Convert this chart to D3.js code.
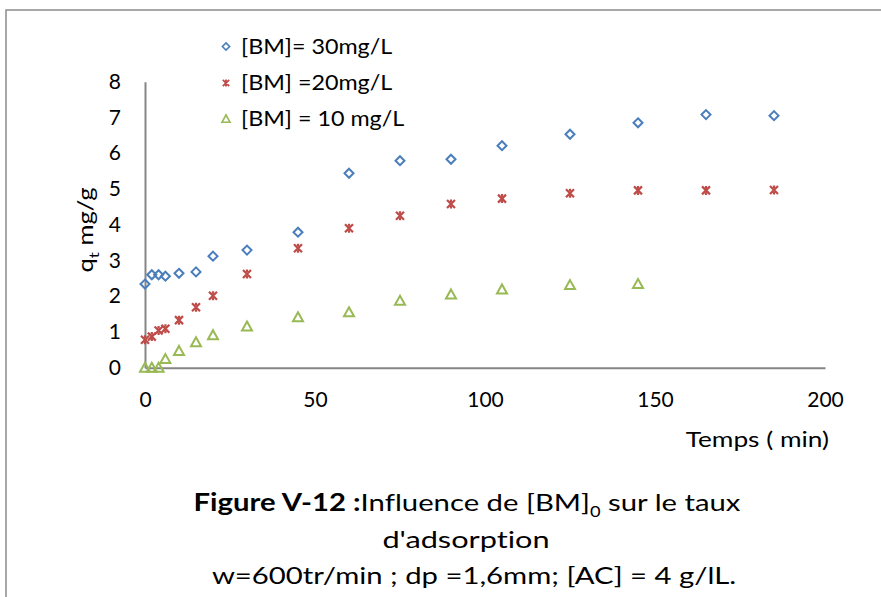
<!DOCTYPE html>
<html>
<head>
<meta charset="utf-8">
<script src="https://cdn.jsdelivr.net/npm/d3@7"></script>
<style>
  body { margin: 0; background: #fff; }
  text { font-family: Lato, "Open Sans", sans-serif; fill: #000; font-variant-ligatures: none; }
</style>
</head>
<body>
<div id="chart"></div>
<script>
// data
const times30 = [0, 2, 4, 6, 10, 15, 20, 30, 45, 60, 75, 90, 105, 125, 145, 165, 185]
const q30 = [2.34, 2.60, 2.60, 2.56, 2.64, 2.68, 3.12, 3.29, 3.79, 5.44, 5.79, 5.83, 6.21, 6.53, 6.85, 7.08, 7.05]
const times20 = [0, 2, 4, 6, 10, 15, 20, 30, 45, 60, 75, 90, 105, 125, 145, 165, 185]
const q20 = [0.78, 0.87, 1.04, 1.09, 1.33, 1.69, 2.01, 2.62, 3.34, 3.90, 4.25, 4.58, 4.73, 4.88, 4.96, 4.96, 4.97]
const times10 = [0, 2, 4, 6, 10, 15, 20, 30, 45, 60, 75, 90, 105, 125, 145]
const q10 = [0, 0, 0, 0.24, 0.47, 0.71, 0.91, 1.15, 1.41, 1.55, 1.87, 2.05, 2.19, 2.31, 2.34]
const seriesNames = ["[BM]= 30mg/L", "[BM] =20mg/L", "[BM] = 10 mg/L"]
const xTicks = [0, 50, 100, 150, 200]
const yTicks = [0, 1, 2, 3, 4, 5, 6, 7, 8]

const W = 881, H = 597
const svg = d3.select("#chart").append("svg")
  .attr("width", W).attr("height", H)

// the source picture is a little stretched sideways, so text is widened
function label(x, y, sx, anchor, size) {
  return svg.append("g")
      .attr("transform", "translate(" + x + "," + y + ") scale(" + sx + ",1)")
    .append("text")
      .attr("text-anchor", anchor)
      .style("font-size", size + "px")
}

// outer frame (only top/left visible in crop)
svg.append("rect")
  .attr("x", 6).attr("y", 10)
  .attr("width", 900).attr("height", 620)
  .attr("fill", "none").attr("stroke", "#8c8c8c").attr("stroke-width", 1.5)

const x = d3.scaleLinear().domain([0, 200]).range([145, 825])
const y = d3.scaleLinear().domain([0, 8]).range([367.7, 81.7])

const axisColor = "#868686"

// x axis
const gx = svg.append("g")
  .attr("transform", "translate(0," + y(0) + ")")
  .call(d3.axisBottom(x).tickValues(xTicks).tickSize(0).tickPadding(24))
gx.select(".domain").attr("stroke", axisColor).attr("stroke-width", 2)
gx.selectAll("text").style("font-size", "21px").attr("font-family", null)

// y axis
const gy = svg.append("g")
  .attr("transform", "translate(" + x(0) + ",0)")
  .call(d3.axisLeft(y).tickValues(yTicks).tickSize(0).tickPadding(24))
gy.select(".domain").attr("stroke", axisColor).attr("stroke-width", 2)
gy.selectAll("text").style("font-size", "21px").attr("font-family", null)

// axis titles
label(829, 447, 1.25, "end", 21).text("Temps ( min)")

const yt = svg.append("g")
    .attr("transform", "translate(93,230) rotate(-90) scale(1.22,1)")
  .append("text")
    .attr("text-anchor", "middle")
    .style("font-size", "21px")
yt.append("tspan").text("q")
yt.append("tspan").attr("dy", 6).style("font-size", "14px").text("t")
yt.append("tspan").attr("dy", -6).text(" mg/g")

// marker shapes
const colors = ["#4a7ebb", "#be4b48", "#98b954"]
function drawMarker(g, kind, color) {
  if (kind === 0) {
    g.append("path").attr("d", "M0,-4.5L4.5,0L0,4.5L-4.5,0Z")
      .attr("fill", "none").attr("stroke", color).attr("stroke-width", 2)
  } else if (kind === 1) {
    g.append("path").attr("d", "M-4,-4L4,4M-4,4L4,-4M0,-4.5L0,-2M0,2L0,4.5")
      .attr("fill", "none").attr("stroke", color).attr("stroke-width", 2.2)
  } else {
    g.append("path").attr("d", "M0,-5L5,4L-5,4Z")
      .attr("fill", "none").attr("stroke", color).attr("stroke-width", 2)
  }
}

const series = [
  { t: times30, q: q30 },
  { t: times20, q: q20 },
  { t: times10, q: q10 }
]
series.forEach(function(s, i) {
  const pts = s.t.map(function(t, j) { return { t: t, q: s.q[j] } })
  svg.append("g").selectAll("g")
    .data(pts)
    .enter()
    .append("g")
      .attr("transform", function(d) { return "translate(" + x(d.t) + "," + y(d.q) + ")" })
      .each(function() { drawMarker(d3.select(this), i, colors[i]) })
})

// legend
const legendY = [46.5, 83, 119]
seriesNames.forEach(function(name, i) {
  const g = svg.append("g").attr("transform", "translate(226," + legendY[i] + ")")
  const m = g.append("g").attr("transform", "scale(0.8)")
  drawMarker(m, i, colors[i])
  label(241, legendY[i], 1.11, "start", 21).attr("dy", "0.35em").text(name)
})

// caption
const cap1 = label(467, 511, 1.22, "middle", 24)
cap1.append("tspan").style("font-weight", "bold").text("Figure V-12 :")
cap1.append("tspan").text("Influence de [BM]")
cap1.append("tspan").attr("dy", 6).style("font-size", "15px").text("0")
cap1.append("tspan").attr("dy", -6).text(" sur le taux")

label(466, 548, 1.28, "middle", 24).text("d'adsorption")

label(474, 584, 1.22, "middle", 24).text("w=600tr/min ; dp =1,6mm; [AC] = 4 g/lL.")
</script>
</body>
</html>
